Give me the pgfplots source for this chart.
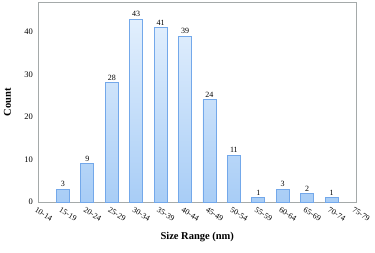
\documentclass[border=0pt]{standalone}
\usepackage{pgfplots}
\pgfplotsset{compat=1.18}
\usepackage{fontspec}
\setmainfont{Liberation Serif}
\definecolor{bartop}{RGB}{226,239,253}
\definecolor{barbot}{RGB}{168,205,246}
\definecolor{baredge}{RGB}{115,168,234}
\definecolor{frame}{RGB}{165,170,170}
\begin{document}
\begin{tikzpicture}[x=1pt,y=1pt]
\useasboundingbox (0,0) rectangle (375,252);
\begin{axis}[
  at={(38.5pt,50pt)}, anchor=south west,
  scale only axis, width=317.5pt, height=200pt,
  xmin=0, xmax=13, ymin=0, ymax=47,
  xtick={0,...,13},
  xticklabels={10-14,15-19,20-24,25-29,30-34,35-39,40-44,45-49,50-54,55-59,60-64,65-69,70-74,75-79},
  x tick label style={rotate=-30, anchor=north west, font=\fontsize{8}{9}\selectfont, inner sep=1pt, xshift=0pt, yshift=-4pt},
  ytick={0,10,20,30,40},
  y tick label style={font=\fontsize{8.5}{9}\selectfont, xshift=-2pt},
  /pgf/number format/assume math mode=true,
  major tick length=0pt,
  axis line style={draw=frame, line width=0.8pt},
  xlabel={\textbf{Size Range (nm)}},
  ylabel={\textbf{Count}},
  label style={font=\fontsize{10.5}{12}\selectfont},
  xlabel style={at={(axis description cs:0.5,0)}, anchor=center, yshift=-35pt},
  ylabel style={at={(axis description cs:0,0.5)}, anchor=center, yshift=31pt},
  nodes near coords,
  nodes near coords style={font=\fontsize{8}{9}\selectfont, inner sep=2pt, text=black},
  clip=false,
]
\addplot[ybar, bar width=13pt, top color=bartop, bottom color=barbot, draw=baredge, line width=0.8pt]
  coordinates {(1,3) (2,9) (3,28) (4,43) (5,41) (6,39) (7,24) (8,11) (9,1) (10,3) (11,2) (12,1)};
\end{axis}
\end{tikzpicture}
\end{document}
